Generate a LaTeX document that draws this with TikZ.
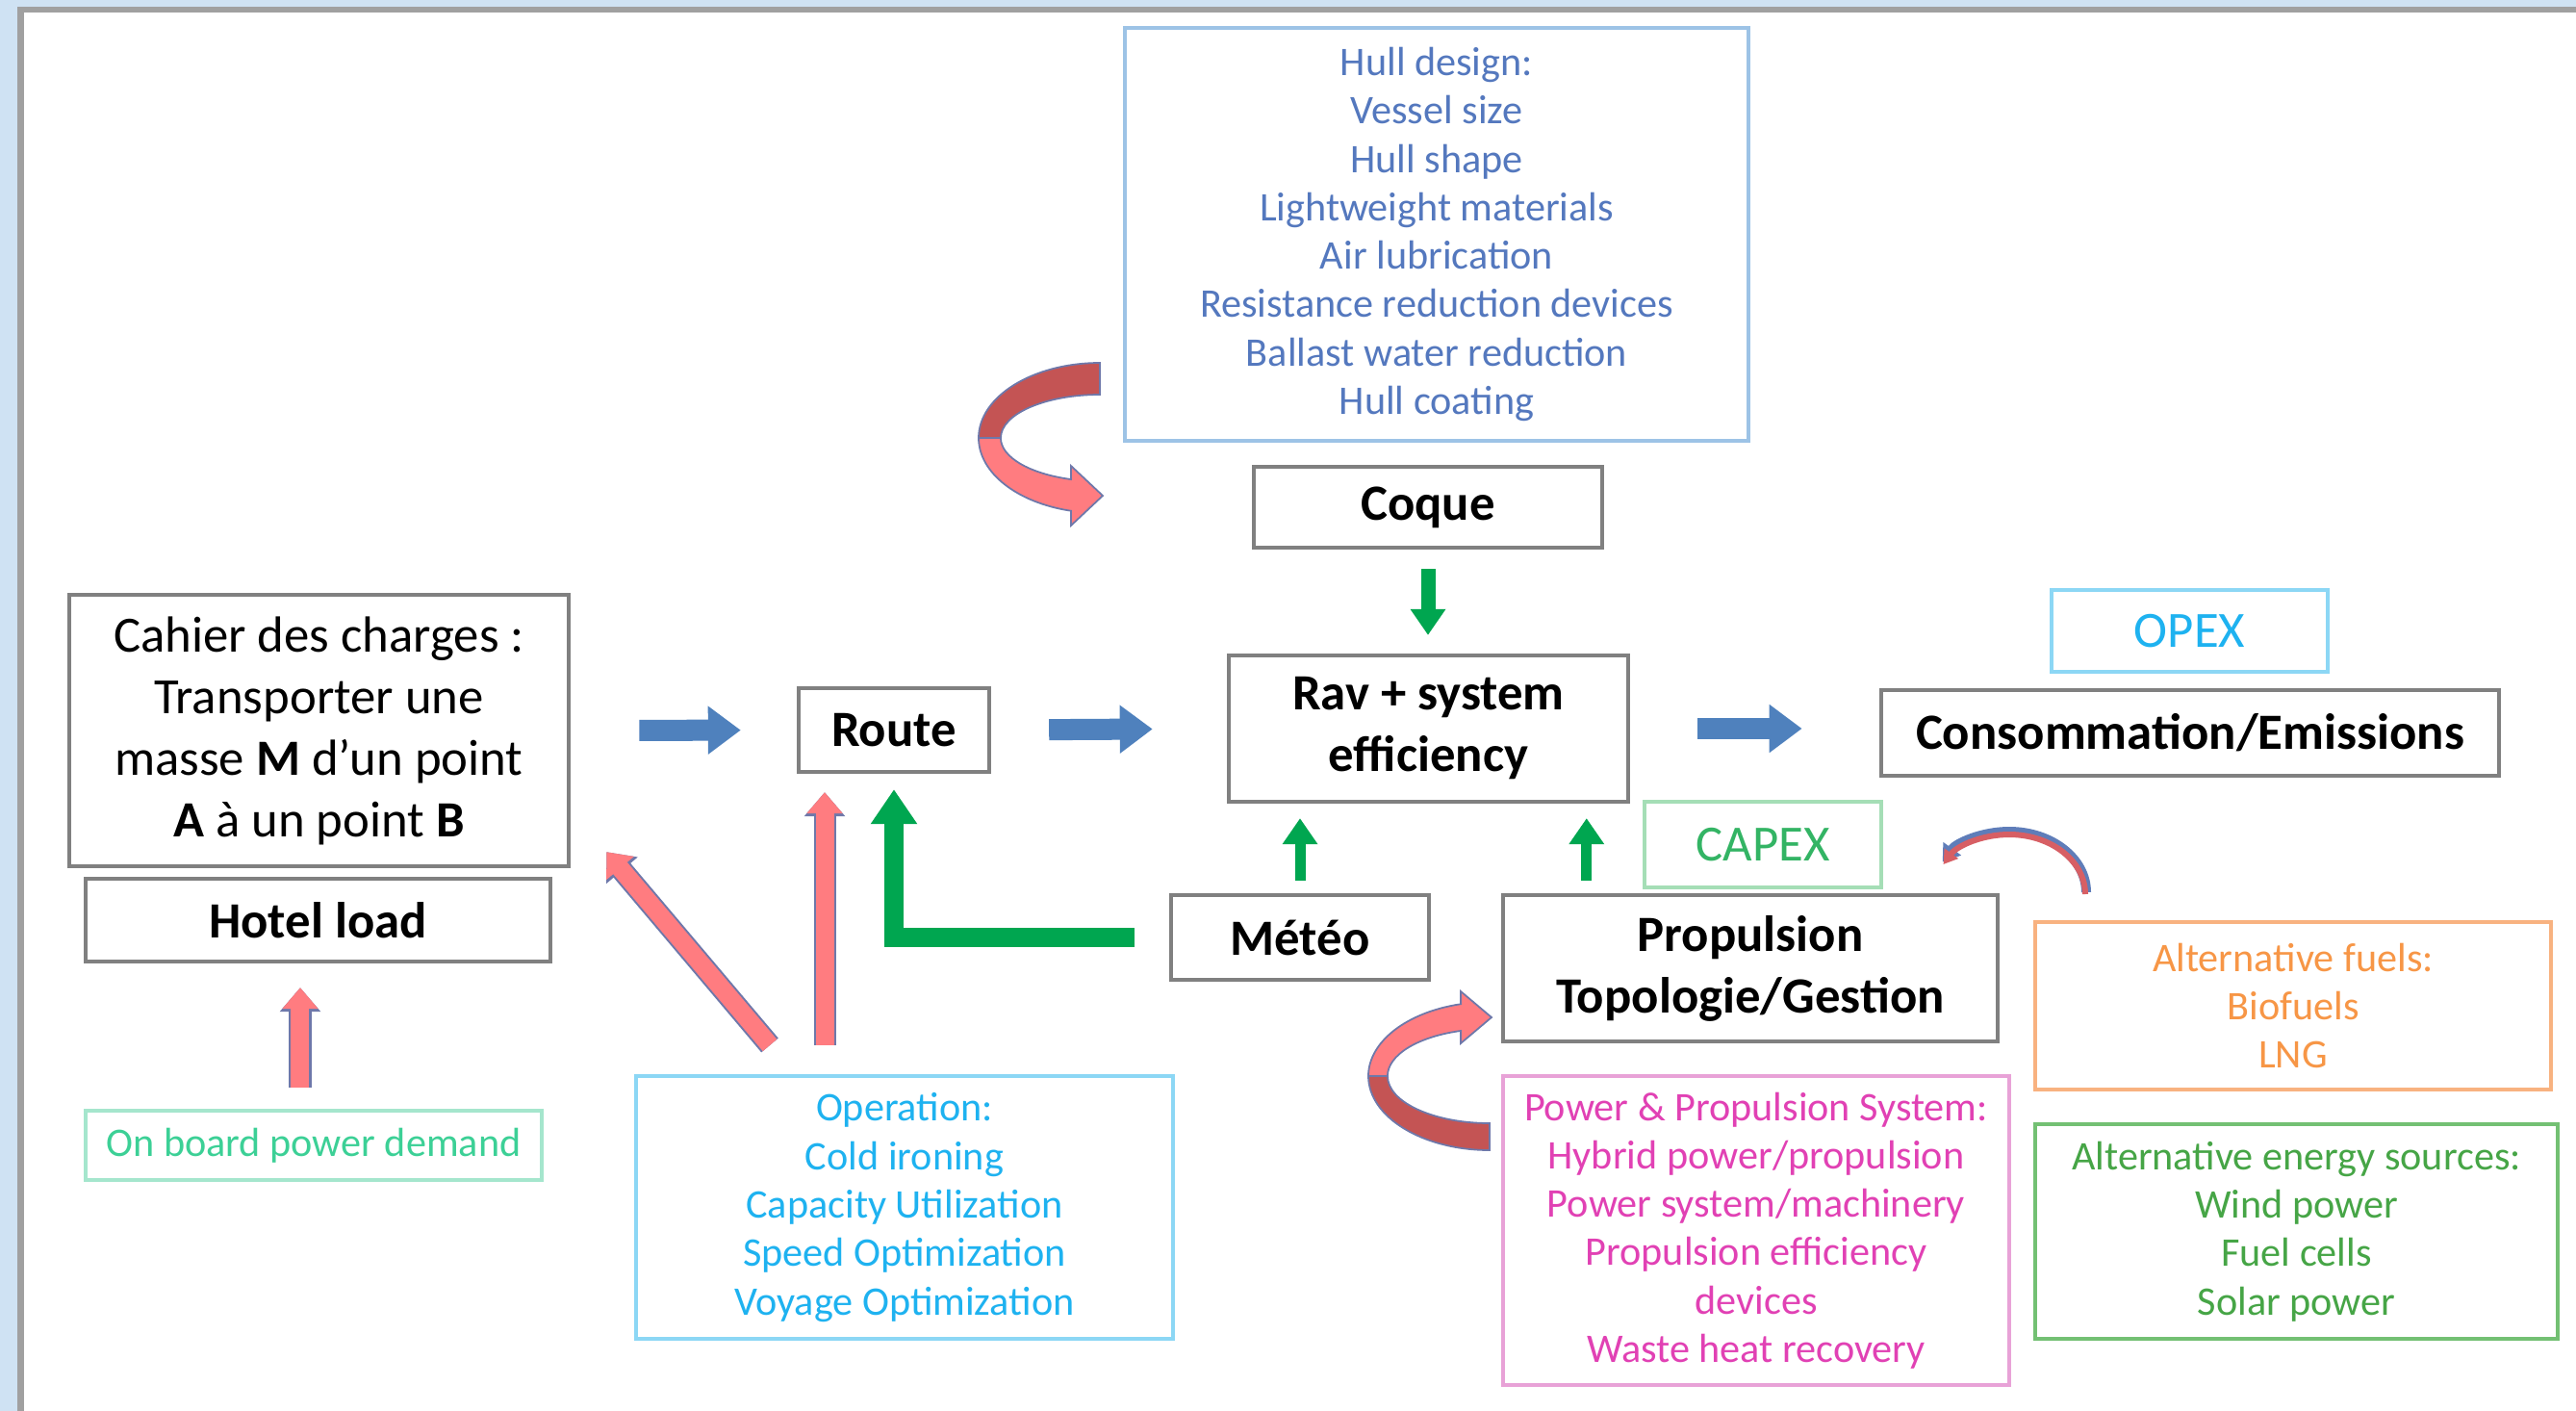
\documentclass[tikz,border=0pt]{standalone}
\usepackage{fontspec}
\setmainfont{Carlito}
\usetikzlibrary{arrows.meta,calc}

\definecolor{framebg}{RGB}{207,226,243}
\definecolor{framegray}{RGB}{160,160,160}
\definecolor{boxgray}{RGB}{128,128,128}
\definecolor{arrblue}{RGB}{79,129,189}
\definecolor{arrgreen}{RGB}{0,166,80}
\definecolor{arrpink}{RGB}{255,124,128}
\definecolor{arrdark}{RGB}{196,84,84}
\definecolor{arredge}{RGB}{110,120,170}
\definecolor{smallblue}{RGB}{95,125,185}
\definecolor{smallred}{RGB}{215,95,100}
% colours of the list boxes
\definecolor{hulltext}{RGB}{84,120,190}
\definecolor{hulledge}{RGB}{157,195,230}
\definecolor{optext}{RGB}{30,178,240}
\definecolor{opedge}{RGB}{140,215,245}
\definecolor{boardtext}{RGB}{60,208,150}
\definecolor{boardedge}{RGB}{165,230,205}
\definecolor{capextext}{RGB}{51,180,100}
\definecolor{capexedge}{RGB}{165,222,182}
\definecolor{fueltext}{RGB}{247,150,70}
\definecolor{fueledge}{RGB}{248,178,128}
\definecolor{energytext}{RGB}{70,165,70}
\definecolor{energyedge}{RGB}{115,192,115}
\definecolor{powertext}{RGB}{225,65,180}
\definecolor{poweredge}{RGB}{232,162,215}

\tikzset{
  blackbox/.style={draw=boxgray, line width=1.2pt, fill=white, align=center,
    inner sep=0pt, font=\bfseries\fontsize{15}{18.2}\selectfont},
  listbox/.style={draw=#1edge, text=#1text, line width=1.1pt, fill=white,
    align=center, inner sep=0pt, font=\fontsize{12}{14.3}\selectfont},
  tagbox/.style={listbox=#1, font=\fontsize{15}{18.2}\selectfont},
  bluearr/.style={draw=arrblue, line width=0.22cm,
    -{Triangle[length=0.34cm,width=0.48cm]}},
  greenarr/.style={draw=arrgreen, line width=0.15cm,
    -{Triangle[length=0.27cm,width=0.35cm]}},
  pinkarr/.style={draw=arrpink, line width=0.19cm,
    -{Triangle[length=0.22cm,width=0.36cm]},
    preaction={draw=arredge, line width=0.23cm,
      -{Triangle[length=0.25cm,width=0.41cm]}}},
  curvearr/.style={draw=arredge, line width=0.5pt},
}

\begin{document}
\begin{tikzpicture}[x=0.01cm,y=-0.01cm]
\clip (0,0) rectangle (2677,1466);
% window frame
\fill[framebg] (0,0) rectangle (2677,1466);
\draw[draw=framegray, line width=0.06cm, fill=white] (21.5,9.5) rectangle (2720,1510);

% boxes
\node[listbox=hull, minimum width=6.48cm, minimum height=4.29cm] (hull) at (1493,243.5)
  {Hull design:\\Vessel size\\Hull shape\\Lightweight materials\\Air lubrication\\
   Resistance reduction devices\\Ballast water reduction\\Hull coating};
\node[blackbox, minimum width=3.62cm, minimum height=0.84cm] (coque) at (1484,527) {Coque};
\node[blackbox, font=\fontsize{15}{18.2}\selectfont, minimum width=5.19cm,
  minimum height=2.82cm] (cahier) at (331.5,759)
  {Cahier des charges :\\Transporter une\\masse \textbf{M} d’un point\\
   \textbf{A} à un point \textbf{B}};
\node[blackbox, minimum width=4.83cm, minimum height=0.86cm] (hotel) at (330.5,956) {Hotel load};
\node[blackbox, minimum width=1.98cm, minimum height=0.87cm] (route) at (929,758.5) {Route};
\node[blackbox, minimum width=4.15cm, minimum height=1.52cm] (rav) at (1484.5,757)
  {Rav + system\\efficiency};
\node[tagbox=op, minimum width=2.87cm, minimum height=0.85cm] (opex) at (2275.5,655.5) {OPEX};
\node[blackbox, minimum width=6.42cm, minimum height=0.89cm] (cons) at (2276,761.5)
  {Consommation/Emissions};
\node[tagbox=capex, minimum width=2.46cm, minimum height=0.89cm] (capex) at (1832,877.5) {CAPEX};
\node[blackbox, minimum width=2.68cm, minimum height=0.88cm] (meteo) at (1351,974) {Météo};
\node[blackbox, minimum width=5.14cm, minimum height=1.52cm] (prop) at (1819,1006)
  {Propulsion\\Topologie/Gestion};
\node[listbox=fuel, minimum width=5.36cm, minimum height=1.74cm] (fuels) at (2383,1045)
  {Alternative fuels:\\Biofuels\\LNG};
\node[listbox=energy, minimum width=5.43cm, minimum height=2.23cm] (energy) at (2386.5,1279.5)
  {Alternative energy sources:\\Wind power\\Fuel cells\\Solar power};
\node[listbox=power, minimum width=5.26cm, minimum height=3.21cm] (power) at (1825,1278.5)
  {Power \& Propulsion System:\\Hybrid power/propulsion\\Power system/machinery\\
   Propulsion efficiency\\devices\\Waste heat recovery};
\node[listbox=op, minimum width=5.58cm, minimum height=2.73cm] (operation) at (940,1254.5)
  {Operation:\\Cold ironing\\Capacity Utilization\\Speed Optimization\\Voyage Optimization};
\node[listbox=board, minimum width=4.74cm, minimum height=0.72cm] (onboard) at (326,1190)
  {On board power demand};

% main flow
\draw[bluearr, shorten <=0.71cm, shorten >=0.58cm] (cahier.east) -- (route.west);
\draw[bluearr, shorten <=0.6cm, shorten >=0.77cm] (route.east) -- (rav.west);
\draw[bluearr, shorten <=0.7cm, shorten >=0.8cm] (rav.east) -- (rav.east -| cons.west);

% green inputs
\coordinate (propout) at ([xshift=0.89cm]prop.north west);
\draw[greenarr, shorten <=0.2cm, shorten >=0.19cm] (coque.south) -- (coque.south |- rav.north);
\draw[greenarr, line width=0.11cm, shorten <=0.13cm, shorten >=0.15cm] (meteo.north) -- (meteo.north |- rav.south);
\draw[greenarr, line width=0.11cm, shorten <=0.13cm, shorten >=0.15cm] (propout) -- (propout |- rav.south);
\draw[greenarr, line width=0.2cm, -{Triangle[length=0.36cm,width=0.46cm]},
  shorten <=0.36cm, shorten >=0.16cm] (meteo.west) -| (route.south);

% pink inputs
\coordinate (boardtop) at ([xshift=-0.14cm]onboard.north);
\coordinate (opup) at ([xshift=1.98cm]operation.north west);
\coordinate (opdiag) at ([shift={(1.41cm,0.3cm)}]operation.north west);
\coordinate (cahcorner) at ([shift={(0.37cm,0.17cm)}]cahier.south east);
\draw[pinkarr, shorten <=0.22cm, shorten >=0.25cm] (boardtop) -- (boardtop |- hotel.south);
\draw[pinkarr, shorten <=0.3cm, shorten >=0.19cm] (opup) -- (opup |- route.south);
\draw[pinkarr] (opdiag) -- (cahcorner);

% curved arrow from the hull list to Coque
\filldraw[curvearr, fill=arrdark] (1143,377) arc[start angle=270, end angle=180, x radius=126, y radius=78]
  -- (1040,455) arc[start angle=180, end angle=270, x radius=103, y radius=45] -- cycle;
\filldraw[curvearr, fill=arrpink] (1017,455) arc[start angle=180, end angle=103.8, x radius=126, y radius=78]
  -- (1113,546) -- (1146,515) -- (1113,484) -- (1113,498)
  arc[start angle=106.9, end angle=180, x radius=103, y radius=45] -- cycle;

% curved arrow from the power list to Propulsion
\filldraw[curvearr, fill=arrdark] (1548,1195) arc[start angle=90, end angle=180, x radius=126, y radius=77]
  -- (1442,1118) arc[start angle=180, end angle=90, x radius=106, y radius=49] -- cycle;
\filldraw[curvearr, fill=arrpink] (1422,1118) arc[start angle=180, end angle=256.2, x radius=126, y radius=77]
  -- (1518,1030) -- (1550,1057) -- (1518,1084) -- (1518,1071)
  arc[start angle=253.6, end angle=180, x radius=106, y radius=49] -- cycle;

% small arrow towards CAPEX
\draw[smallblue, line width=0.1cm, -{Triangle[length=0.17cm,width=0.22cm]}]
  (2168,927) arc[start angle=0, end angle=-150, x radius=80, y radius=63];
\draw[smallred, line width=0.06cm, -{Triangle[length=0.14cm,width=0.17cm]}]
  (2167,929) arc[start angle=0, end angle=-150, x radius=79, y radius=62];
\end{tikzpicture}
\end{document}
